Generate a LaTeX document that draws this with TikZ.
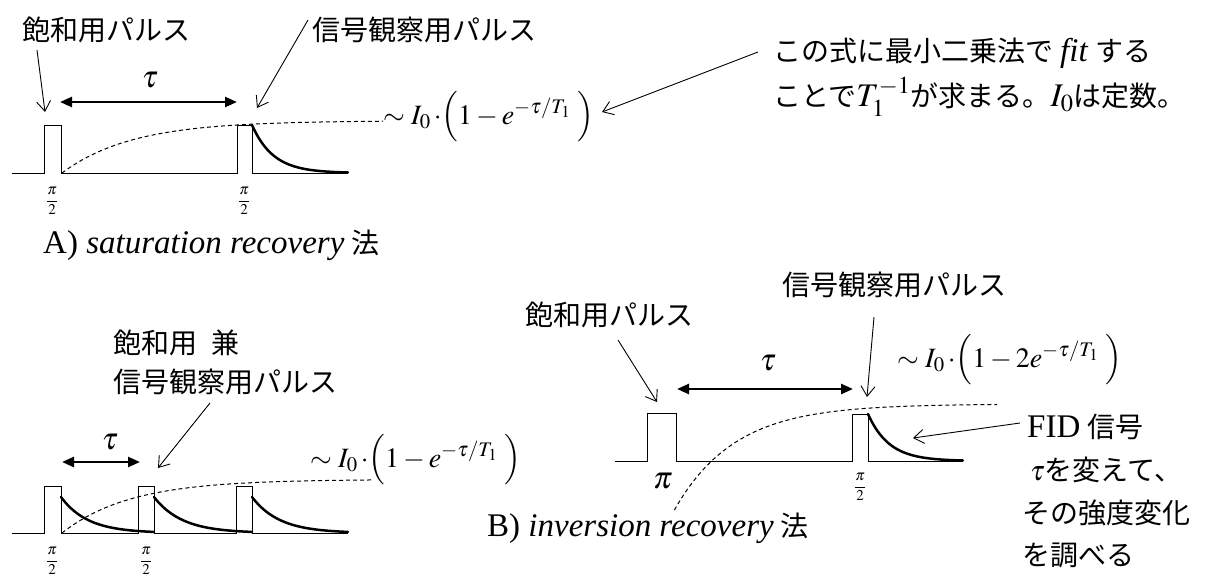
\documentclass[tikz,border=0pt]{standalone}
\usepackage{mathptmx}
\usepackage{fontspec}
\setmainfont{Liberation Serif}
\newfontfamily\jp{Noto Sans CJK JP}
\newcommand\LatSz{\fontsize{33}{38}\selectfont}
\usetikzlibrary{arrows.meta}
\tikzset{
  wave/.style={line width=1pt, line join=miter},
  decay/.style={line width=2.5pt, line cap=round},
  recov/.style={line width=1pt, dash pattern=on 4pt off 3pt},
  callout/.style={line width=0.9pt, -{Straight Barb[length=10pt,width=14pt,line width=0.9pt]}},
  tauarrow/.style={line width=2.5pt, {Triangle[length=12pt,width=10pt]}-{Triangle[length=12pt,width=10pt]}},
  lbl/.style={inner sep=0pt, anchor=west, font=\fontsize{28}{34}\selectfont},
  frm/.style={inner sep=0pt, anchor=west, font=\fontsize{28}{33}\selectfont},
  pifrac/.style={inner sep=0pt, font=\fontsize{15}{18}\selectfont},
  taulbl/.style={inner sep=0pt, font=\fontsize{31}{34}\selectfont},
}
\begin{document}
\begin{tikzpicture}[x=1pt,y=-1pt]
\useasboundingbox (0,0) rectangle (1218,574);

%================ A) top =================
\draw[wave] (12,173) -- (44,173) -- (44,125) -- (61,125) -- (61,173) -- (237,173)
  -- (237,125) -- (252,125) -- (252,173) -- (348,173);
\draw[decay] plot[domain=0:1,samples=50] ({252+96*\x},{173-48*exp(-4.5*\x)});
\draw[recov] plot[domain=0:321,samples=80] ({62+\x},{173-52.3*(1-exp(-\x/70))});

\node[lbl] (satA) at (22,30) {\jp 飽和用パルス};
\node[lbl] (obsA) at (312,30) {\jp 信号観察用パルス};
\coordinate (satAs) at (37,50);
\coordinate (satAt) at (45,112);
\coordinate (obsAs) at (308,20);
\coordinate (obsAt) at (257,108);
\draw[callout] (satAs) -- (satAt);
\draw[callout] (obsAs) -- (obsAt);

\coordinate (tauAl) at (60,102);
\coordinate (tauAr) at (237,102);
\draw[tauarrow] (tauAl) -- (tauAr);
\node[taulbl] (tauA) at (150,80) {$\tau$};

\node[pifrac] (piA1) at (52,201) {$\displaystyle\frac{\pi}{2}$};
\node[pifrac] (piA2) at (244,201) {$\displaystyle\frac{\pi}{2}$};

\node[frm] (fA) at (383,117) {$\sim I_{0}\,{\cdot}\Bigl(1-e^{-\tau/T_{1}}\ \Bigr)$};

\node[lbl] (note1) at (773,53) {{\jp この式に最小二乗法で} {\LatSz\textit{fit}} {\jp する}};
\node[lbl] (note2) at (773,97) {{\jp ことで}{\LatSz$T_{1}^{-1}$}{\jp が求まる。}{\LatSz$I_{0}$}{\jp は定数。}};
\coordinate (noteS) at (758,52);
\coordinate (noteT) at (602,112);
\draw[callout] (noteS) -- (noteT);

\node[lbl] (capA) at (43,245) {{\LatSz A) \textit{saturation recovery}} {\jp 法}};

%================ A) bottom =================
\draw[wave] (12,533) -- (44,533) -- (44,486) -- (61,486) -- (61,533) -- (138,533)
  -- (138,486) -- (154,486) -- (154,533) -- (236,533) -- (236,486) -- (252,486)
  -- (252,533) -- (348,533);
\draw[decay] plot[domain=0:1,samples=50] ({61+93*\x},{533-36*exp(-3.5*\x)});
\draw[decay] plot[domain=0:1,samples=50] ({154+98*\x},{533-36*exp(-3.5*\x)});
\draw[decay] plot[domain=0:1,samples=50] ({252+96*\x},{533-36*exp(-3.5*\x)});
\draw[recov] plot[domain=0:311,samples=80] ({62+\x},{533-53.6*(1-exp(-\x/68))});

\node[lbl] (both1) at (113,343) {\jp 飽和用\hspace{0.5em}兼};
\node[lbl] (both2) at (113,382) {\jp 信号観察用パルス};
\coordinate (bothS) at (210,403);
\coordinate (bothT) at (158,468);
\draw[callout] (bothS) -- (bothT);

\coordinate (tauCl) at (62,462);
\coordinate (tauCr) at (140,462);
\draw[tauarrow] (tauCl) -- (tauCr);
\node[taulbl] (tauC) at (110,442) {$\tau$};

\node[pifrac] (piC1) at (52,561) {$\displaystyle\frac{\pi}{2}$};
\node[pifrac] (piC2) at (146,561) {$\displaystyle\frac{\pi}{2}$};

\node[frm] (fC) at (310,460) {$\sim I_{0}\,{\cdot}\Bigl(1-e^{-\tau/T_{1}}\ \Bigr)$};

%================ B) inversion recovery =================
\draw[wave] (615,461) -- (647,461) -- (647,413) -- (676,413) -- (676,461) -- (852,461)
  -- (852,414) -- (868,414) -- (868,461) -- (963,461);
\draw[decay] plot[domain=0:1,samples=50] ({868+95*\x},{461-47*exp(-4.5*\x)});
\draw[recov] plot[domain=4.35:327,samples=120] ({670+\x},{461-57*(1-2*exp(-\x/60))});

\node[lbl] (satB) at (525,315) {\jp 飽和用パルス};
\node[lbl] (obsB) at (782,285) {\jp 信号観察用パルス};
\coordinate (satBs) at (618,340);
\coordinate (satBt) at (657,402);
\coordinate (obsBs) at (874,317);
\coordinate (obsBt) at (867,397);
\draw[callout] (satBs) -- (satBt);
\draw[callout] (obsBs) -- (obsBt);

\coordinate (tauBl) at (677,389);
\coordinate (tauBr) at (853,389);
\draw[tauarrow] (tauBl) -- (tauBr);
\node[taulbl] (tauB) at (768,363) {$\tau$};

\node[taulbl] (piB1) at (663,481) {$\pi$};
\node[pifrac] (piB2) at (860,487) {$\displaystyle\frac{\pi}{2}$};

\node[frm] (fB) at (897,360) {$\sim I_{0}\,{\cdot}\Bigl(1-2e^{-\tau/T_{1}}\ \Bigr)$};

\node[lbl] (fid) at (1027,427) {{\LatSz FID} {\jp 信号}};
\coordinate (fidS) at (1020,423);
\coordinate (fidT) at (913,438);
\draw[callout] (fidS) -- (fidT);
\node[lbl] (chg1) at (1030,470) {$\tau${\jp を変えて、}};
\node[lbl] (chg2) at (1022,513) {\jp その強度変化};
\node[lbl] (chg3) at (1022,555) {\jp を調べる};

\node[lbl] (capB) at (487,528) {{\LatSz B) \textit{inversion recovery}} {\jp 法}};
\end{tikzpicture}
\end{document}
